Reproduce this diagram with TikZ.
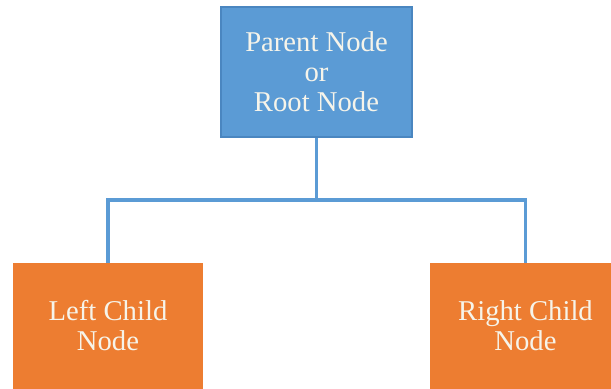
\documentclass[tikz,border=0pt]{standalone}
\usepackage{fontspec}
\setmainfont{Liberation Serif}
\definecolor{nodeblue}{HTML}{5B9BD5}
\definecolor{bluebord}{HTML}{4A86C0}
\definecolor{nodeorange}{HTML}{ED7D31}
\definecolor{txtcream}{HTML}{F6F4EA}
\begin{document}
\begin{tikzpicture}[x=0.75pt,y=-0.75pt,
  box/.style={rectangle, inner sep=0pt, align=center, text=txtcream,
    font=\fontsize{21.5}{22.5}\selectfont},
  parentbox/.style={box, fill=nodeblue, draw=bluebord, line width=0.8pt,
    minimum width=143.25pt, minimum height=97.5pt},
  childbox/.style={box, fill=nodeorange, minimum width=143pt, minimum height=94.5pt},
  link/.style={draw=nodeblue, line width=2.6pt}]
\clip (0,0) rectangle (611,389);
\fill[white] (0,0) rectangle (611,389);
\node[parentbox] (parent) at (316.5,72) {Parent Node\\or\\Root Node};
\node[childbox] (left) at (108,326) {Left Child\\Node};
\node[childbox] (right) at (525.5,326) {Right Child\\Node};
\coordinate (j) at (316.5,200);
\draw[link] (parent.south) -- (j);
\draw[link] (left.north) |- (j) -| (right.north);
\end{tikzpicture}
\end{document}
